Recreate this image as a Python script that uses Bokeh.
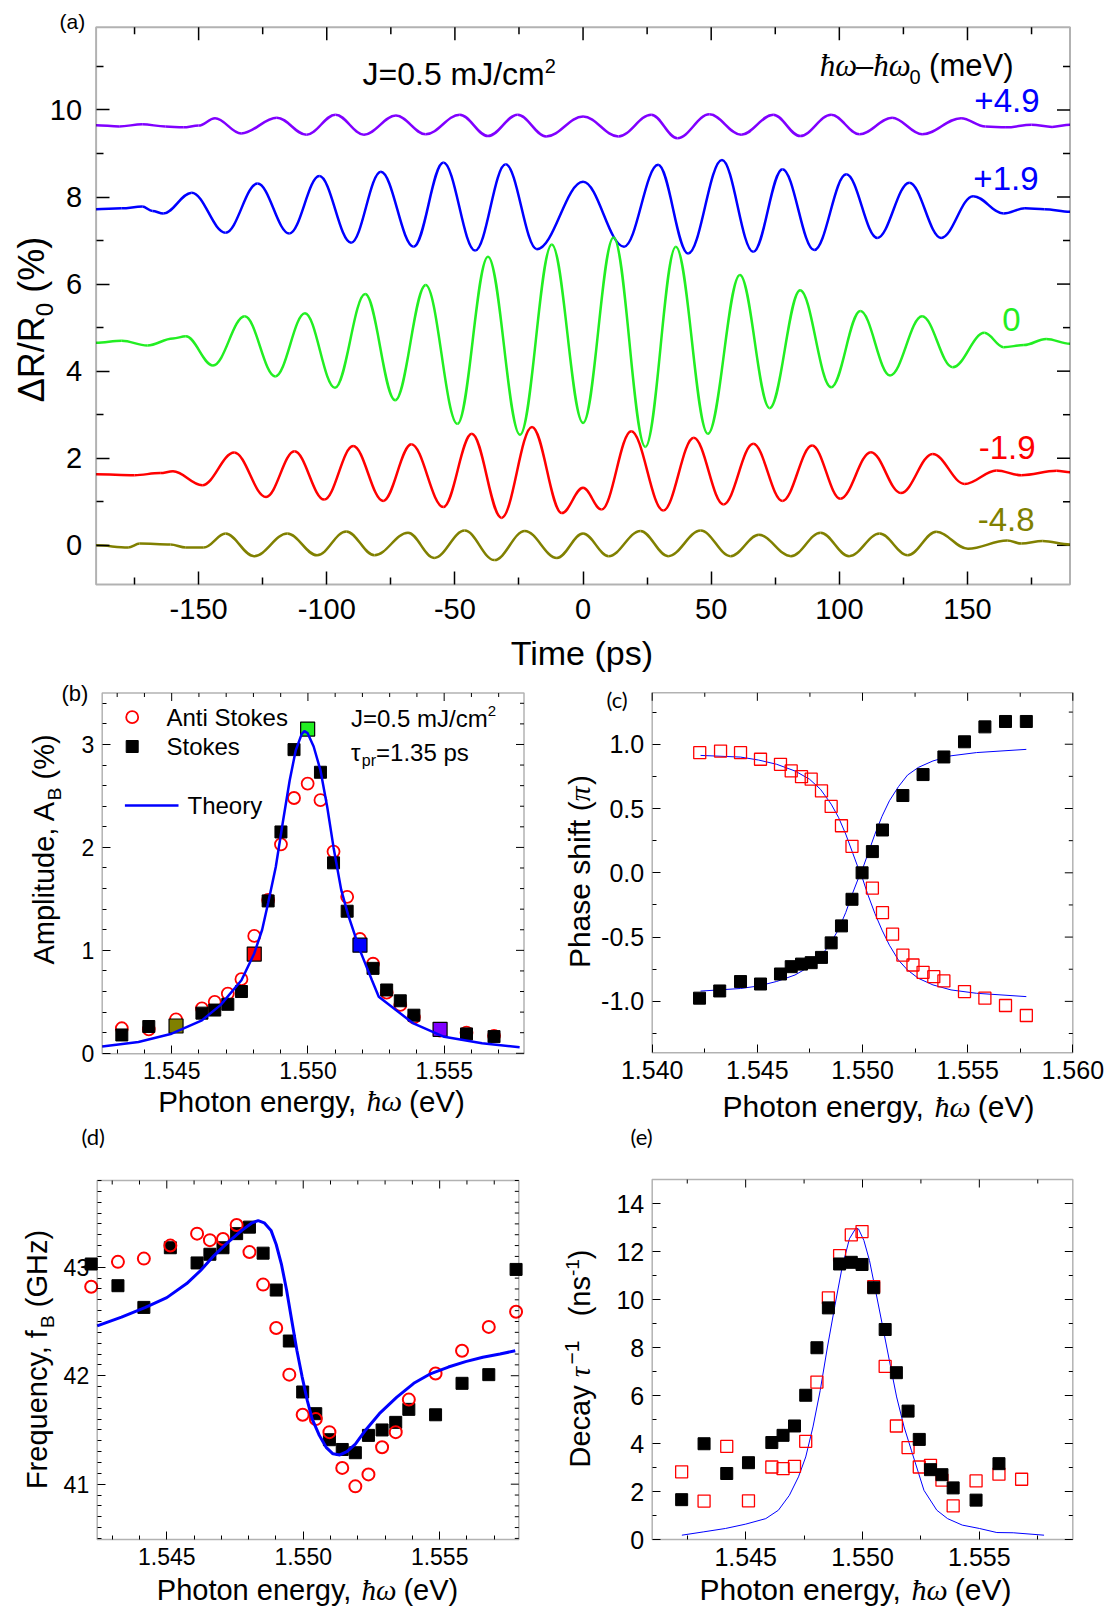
import numpy as np
from bokeh.plotting import figure
from bokeh.models import Range1d, LinearAxis, FixedTicker, PrintfTickFormatter, Label, BoxAnnotation
from bokeh.layouts import column, row
from bokeh.embed import file_html
from bokeh.resources import INLINE

# ------------------------------------------------------------------ data
# (a) time-domain traces: extrema / key points (time ps, dR/R %)
t_p49 = [-190, -181, -172, -163, -156, -150, -143.6, -133.4, -119.5, -107.9, -96.6, -85.5, -73.0, -61.4, -48.1, -37.1,
         -25.5, -14.4, 0, 13.8, 26.6, 36.8, 49.3, 61.7, 74.2, 84.7, 96.8, 107.9, 120.6, 132.3, 147.5, 157, 165, 175, 183, 190]
v_p49 = [9.65, 9.62, 9.67, 9.62, 9.60, 9.64, 9.81, 9.46, 9.82, 9.43, 9.89, 9.43, 9.87, 9.44, 9.89, 9.40,
         9.89, 9.39, 9.85, 9.39, 9.89, 9.35, 9.90, 9.43, 9.89, 9.40, 9.89, 9.44, 9.82, 9.44, 9.81, 9.62, 9.60, 9.66, 9.61, 9.66]
t_p19 = [-190, -180, -172, -168, -163.8, -152.7, -139.5, -127, -114.6, -102.9, -90.5, -78.9, -66.1, -54.5, -42.1, -30.2,
         -18, 0, 16, 29.3, 41, 54.2, 66.4, 77.8, 90.2, 102.7, 114.8, 127.3, 139.7, 152.2, 164.1, 172.4, 180, 190]
v_p19 = [7.72, 7.74, 7.78, 7.68, 7.62, 8.10, 7.18, 8.31, 7.16, 8.48, 6.95, 8.58, 6.86, 8.79, 6.77, 8.75,
         6.80, 8.35, 6.86, 8.74, 6.70, 8.85, 6.74, 8.64, 6.78, 8.52, 7.06, 8.33, 7.06, 8.02, 7.62, 7.74, 7.72, 7.66]
t_0 = [-190, -180, -170, -160, -155, -144.4, -132, -120.1, -108.5, -96.8, -85, -73.3, -61.4, -49, -37.1, -24.6,
       -12.2, 0, 11.9, 24.3, 36.2, 48.7, 61.2, 72.8, 84.7, 96.8, 108.2, 119.8, 132.3, 144.2, 156.6, 164.1, 172, 180.7, 190]
v_0 = [4.65, 4.70, 4.59, 4.75, 4.80, 4.13, 5.26, 3.88, 5.33, 3.62, 5.77, 3.33, 5.98, 2.79, 6.63, 2.54,
       6.91, 2.81, 7.07, 2.26, 6.86, 2.56, 6.21, 3.15, 5.86, 3.63, 5.38, 3.90, 5.26, 4.09, 4.88, 4.55, 4.60, 4.74, 4.63]
t_m19 = [-190, -175, -165, -160, -148.6, -136.1, -123.7, -112.6, -101, -89.7, -78, -67, -54.5, -43.4, -31.8, -19.9,
         -8.3, 0, 7.2, 18.8, 31.3, 43.2, 54.8, 66.4, 77.8, 89.4, 100.4, 112.3, 124, 136.4, 148.9, 161.3, 171, 184.8, 190]
v_m19 = [1.63, 1.61, 1.66, 1.70, 1.38, 2.13, 1.11, 2.16, 1.05, 2.28, 1.02, 2.32, 0.88, 2.56, 0.63, 2.72,
         0.74, 1.32, 0.82, 2.62, 0.80, 2.47, 0.94, 2.33, 1.02, 2.29, 1.07, 2.14, 1.20, 2.10, 1.41, 1.72, 1.61, 1.71, 1.68]
t_m48 = [-190, -177.5, -173, -161, -155, -148, -139.5, -128.4, -115.4, -103.8, -92.4, -81.4, -68.3, -58.1, -46.2, -34.6,
         -22.7, -10.2, 0, 10, 22.4, 33.2, 45.9, 57.6, 68.6, 81.1, 92.7, 103.8, 115.7, 126.7, 137.8, 150.2, 165.5, 171, 179.3, 190]
v_m48 = [0.0, -0.05, 0.04, 0.02, -0.05, -0.05, 0.27, -0.25, 0.27, -0.23, 0.32, -0.23, 0.29, -0.29, 0.34, -0.34,
         0.33, -0.29, 0.27, -0.25, 0.33, -0.25, 0.34, -0.25, 0.24, -0.25, 0.29, -0.25, 0.27, -0.23, 0.31, -0.08, 0.11, 0.04, 0.10, 0.02]
trace_labels = ["+4.9", "+1.9", "0", "-1.9", "-4.8"]

# (b) amplitude
b_E = [1.54317, 1.54416, 1.54516, 1.54611, 1.54658, 1.54706, 1.54756, 1.54803, 1.54854, 1.54901, 1.54949, 1.54999,
       1.55046, 1.55094, 1.55144, 1.55191, 1.55239, 1.55289, 1.55339, 1.55389, 1.55485, 1.55582, 1.55683]
b_anti = [0.243, 0.233, 0.33, 0.437, 0.50, 0.58, 0.72, 1.14, 1.49, 2.03, 2.48, 2.62,
          2.46, 1.96, 1.52, 1.11, 0.87, 0.59, 0.47, 0.35, 0.22, 0.20, 0.17]
b_stokes = [0.178, 0.26, 0.265, 0.39, 0.42, 0.476, 0.60, 0.964, 1.48, 2.15, 2.95, 3.15,
            2.73, 1.85, 1.38, 1.05, 0.825, 0.615, 0.51, 0.37, 0.233, 0.188, 0.162]
b_highlight = [2, 7, 11, 15, 20]
bt_E = [1.54245, 1.54378, 1.545, 1.54611, 1.5468, 1.54756, 1.54803, 1.54832, 1.54854, 1.54882, 1.54907, 1.54933,
        1.54955, 1.54977, 1.54987, 1.54999, 1.55021, 1.55046, 1.55071, 1.55094, 1.55122, 1.55147, 1.55191, 1.55235,
        1.5526, 1.55323, 1.55387, 1.555, 1.55639, 1.55777]
bt_A = [0.065, 0.11, 0.19, 0.32, 0.47, 0.71, 0.97, 1.2, 1.46, 1.81, 2.23, 2.65,
        2.94, 3.10, 3.13, 3.11, 2.98, 2.75, 2.39, 2.0, 1.59, 1.35, 1.0, 0.71,
        0.55, 0.42, 0.29, 0.16, 0.097, 0.058]

# (c) phase shift (units of pi)
c_E_s = [1.54225, 1.54321, 1.5442, 1.54515, 1.5461, 1.54661, 1.5471, 1.54756, 1.54805, 1.54851, 1.549, 1.5495,
         1.54998, 1.55047, 1.55095, 1.55192, 1.55288, 1.55387, 1.55485, 1.55582, 1.5568, 1.55779]
c_stokes = [-0.975, -0.919, -0.846, -0.865, -0.787, -0.730, -0.710, -0.699, -0.658, -0.545, -0.413, -0.206,
            0.0, 0.165, 0.333, 0.601, 0.764, 0.901, 1.019, 1.135, 1.177, 1.177]
c_E_a = [1.54226, 1.54325, 1.5442, 1.54515, 1.5461, 1.54661, 1.5471, 1.54756, 1.54805, 1.54851, 1.549, 1.5495,
         1.55047, 1.55095, 1.55143, 1.55192, 1.5524, 1.55288, 1.55339, 1.55387, 1.55485, 1.55582, 1.5568, 1.55779]
c_anti = [0.934, 0.947, 0.934, 0.883, 0.844, 0.792, 0.748, 0.728, 0.637, 0.516, 0.366, 0.206,
          -0.119, -0.310, -0.477, -0.640, -0.717, -0.774, -0.808, -0.841, -0.924, -0.975, -1.032, -1.110]
ct_E = [1.5423, 1.5442, 1.54506, 1.54592, 1.54679, 1.54748, 1.548, 1.54851, 1.54886, 1.5492, 1.54955, 1.54981,
        1.54998, 1.55024, 1.55059, 1.55093, 1.55128, 1.55171, 1.55214, 1.55266, 1.55335, 1.55421, 1.55542, 1.55779]
ct_dec = [0.913, 0.90, 0.877, 0.844, 0.792, 0.728, 0.65, 0.534, 0.431, 0.302, 0.147, 0.031,
          -0.034, -0.163, -0.317, -0.446, -0.563, -0.679, -0.756, -0.821, -0.872, -0.911, -0.937, -0.963]
ct_inc = [-0.92, -0.90, -0.88, -0.845, -0.795, -0.73, -0.655, -0.54, -0.44, -0.31, -0.15, -0.04,
          0.02, 0.14, 0.30, 0.44, 0.56, 0.67, 0.76, 0.82, 0.87, 0.91, 0.935, 0.96]

# (d) frequency (GHz)
d_E = [1.54223, 1.54321, 1.54416, 1.54513, 1.54611, 1.54658, 1.54706, 1.54756, 1.54803, 1.54853, 1.54901, 1.54949,
       1.54998, 1.55046, 1.55096, 1.55143, 1.55191, 1.55239, 1.55289, 1.55339, 1.55387, 1.55485, 1.55582, 1.5568, 1.5578]
d_stokes = [43.03, 42.83, 42.63, 43.18, 43.04, 43.12, 43.18, 43.31, 43.37, 43.13, 42.79, 42.32,
            41.85, 41.65, 41.41, 41.32, 41.29, 41.45, 41.50, 41.57, 41.69, 41.64, 41.93, 42.01, 42.98]
d_anti = [42.82, 43.05, 43.08, 43.20, 43.31, 43.25, 43.26, 43.39, 43.14, 42.84, 42.44, 42.01,
          41.64, 41.60, 41.48, 41.15, 40.98, 41.09, 41.34, 41.48, 41.78, 42.02, 42.23, 42.45, 42.59]
dt_E = [1.54245, 1.54334, 1.54422, 1.545, 1.54573, 1.54624, 1.54674, 1.54724, 1.54775, 1.54813, 1.54835, 1.54857,
        1.54882, 1.54901, 1.5492, 1.54939, 1.54958, 1.54977, 1.54996, 1.55015, 1.55033, 1.55059, 1.55084, 1.55109,
        1.55134, 1.5516, 1.55191, 1.55229, 1.55279, 1.55342, 1.55405, 1.55468, 1.55532, 1.55595, 1.55658, 1.55721, 1.55777]
dt_f = [42.46, 42.54, 42.63, 42.72, 42.85, 42.97, 43.11, 43.23, 43.34, 43.41, 43.43, 43.41,
        43.34, 43.21, 43.03, 42.79, 42.51, 42.23, 41.99, 41.77, 41.60, 41.45, 41.34, 41.28,
        41.27, 41.30, 41.37, 41.50, 41.65, 41.80, 41.93, 42.02, 42.08, 42.13, 42.17, 42.20, 42.23]

# (e) decay rate (1/ns)
e_E_s = [1.54226, 1.54322, 1.54419, 1.54512, 1.54612, 1.5466, 1.54709, 1.54757, 1.54805, 1.54854, 1.54902, 1.54952,
         1.54998, 1.55048, 1.55097, 1.55145, 1.55195, 1.55243, 1.55291, 1.5534, 1.55388, 1.55486, 1.55584]
e_stokes = [1.66, 3.99, 2.75, 3.20, 4.04, 4.34, 4.73, 6.01, 7.99, 9.65, 11.48, 11.55,
            11.46, 10.49, 8.75, 6.95, 5.35, 4.17, 2.91, 2.70, 2.15, 1.64, 3.16]
e_E_a = [1.54226, 1.54322, 1.54419, 1.54512, 1.54612, 1.5466, 1.54709, 1.54757, 1.54805, 1.54854, 1.54902, 1.54952,
         1.54998, 1.55048, 1.55097, 1.55145, 1.55195, 1.55243, 1.55291, 1.5534, 1.55388, 1.55486, 1.55584, 1.55681]
e_anti = [2.82, 1.60, 3.88, 1.61, 3.02, 2.95, 3.05, 4.09, 6.56, 10.07, 11.83, 12.69,
          12.83, 10.54, 7.21, 4.73, 3.83, 3.02, 3.09, 2.47, 1.40, 2.44, 2.72, 2.51]
et_E = [1.54227, 1.54321, 1.54414, 1.545, 1.54586, 1.5464, 1.54687, 1.54726, 1.54757, 1.54788, 1.54819, 1.5485,
        1.54882, 1.54913, 1.54944, 1.54972, 1.54983, 1.55006, 1.5503, 1.55053, 1.55084, 1.55115, 1.55146, 1.55178,
        1.55209, 1.55263, 1.55318, 1.55364, 1.55427, 1.555, 1.55575, 1.55645, 1.55777]
et_G = [0.18, 0.32, 0.46, 0.64, 0.87, 1.22, 1.84, 2.61, 3.44, 4.69, 6.21, 8.02,
        9.75, 11.35, 12.53, 12.98, 12.94, 12.46, 11.62, 10.51, 8.99, 7.46, 5.94, 4.69,
        3.72, 2.05, 1.22, 0.87, 0.60, 0.46, 0.29, 0.28, 0.18]

# ------------------------------------------------------------------ style
SANS = "Liberation Sans"
SERIF = "Liberation Serif"
LBL = "Lato"
C_PURPLE, C_BLUE, C_GREEN, C_RED, C_OLIVE = "#8000FF", "#0000FF", "#22EE22", "#FF0000", "#808000"
TRACE_COLORS = [C_PURPLE, C_BLUE, C_GREEN, C_RED, C_OLIVE]
LABEL_COLORS = [C_BLUE, C_BLUE, C_GREEN, C_RED, C_OLIVE]
HL_COLORS = [C_OLIVE, C_RED, C_GREEN, C_BLUE, C_PURPLE]

W_SANS = {' ': 278, '(': 333, ')': 333, '+': 584, ',': 278, '-': 333, '.': 278, '/': 278, '=': 584, '%': 889,
          'A': 667, 'B': 667, 'D': 722, 'F': 611, 'G': 778, 'H': 722, 'J': 500, 'P': 667, 'R': 722, 'S': 667,
          'T': 611, 'V': 667, 'a': 556, 'c': 500, 'd': 556, 'e': 556, 'f': 278, 'g': 556, 'h': 556, 'i': 222,
          'k': 500, 'l': 222, 'm': 833, 'n': 556, 'o': 556, 'p': 556, 'q': 556, 'r': 333, 's': 500, 't': 278,
          'u': 556, 'y': 500, 'z': 500, 'Δ': 668, 'π': 600, 'τ': 450, 'ω': 700, 'ħ': 556, '–': 556, '−': 584}
W_SERIF = {'ħ': 500, 'ω': 667, 'τ': 440, 'π': 550}


def text_width(s, size, font):
    tot = 0
    for ch in s:
        if font == SERIF and ch in W_SERIF:
            tot += W_SERIF[ch]
        elif ch.isdigit():
            tot += 556
        else:
            tot += W_SANS.get(ch, 556)
    return tot / 1000.0 * size


def to_data(g, px, py):
    return g['X0'] + (px - g['ox']) * g['sx'], g['Y1'] - (py - g['oy']) * g['sy']


def add_text(p, g, px, py, parts, angle=0.0, align='left'):
    # px, py: start (or centre / end) of the text on its baseline, in page pixels
    # parts: (text, size, shift, font, style, color); shift > 0 lowers (subscript)
    widths = [text_width(pt[0], pt[1], pt[3]) for pt in parts]
    total = sum(widths)
    along = {'left': 0.0, 'center': -total / 2.0, 'right': -total}[align]
    for (t, size, shift, font, style, color), w in zip(parts, widths):
        lead = len(t) - len(t.lstrip(' '))
        s = t.strip(' ')
        a = along + lead * 0.278 * size
        perp = shift - 0.35 * size
        if angle == 0:
            X, Y = px + a, py + perp
        else:
            X, Y = px + perp, py - a
        dx, dy = to_data(g, X, Y)
        if s:
            p.add_layout(Label(x=dx, y=dy, text=s, text_font=font, text_font_size=f"{size}px",
                               text_font_style=style, text_color=color, text_align='left',
                               text_baseline='middle', angle=angle))
        along += w


def make_panel(g, xt, xminor, yt, yminor, xfmt, yfmt, tick_size, standoff, major_len, minor_len, lw):
    bx0, by0, bx1, by1 = g['box']
    bx0 -= g['ox']; bx1 -= g['ox']; by0 -= g['oy']; by1 -= g['oy']
    xa, xb = g['xr']
    ya, yb = g['yr']
    sx = (xb - xa) / (bx1 - bx0)
    sy = (yb - ya) / (by1 - by0)
    g['sx'], g['sy'] = sx, sy
    g['X0'] = xa - bx0 * sx
    g['Y1'] = yb + by0 * sy
    X1 = g['X0'] + g['w'] * sx
    Y0 = g['Y1'] - g['h'] * sy
    p = figure(width=g['w'], height=g['h'], x_range=Range1d(g['X0'], X1), y_range=Range1d(Y0, g['Y1']),
               output_backend="svg", toolbar_location=None, min_border=0,
               x_axis_location=None, y_axis_location=None)
    p.title.text = ""
    p.title.visible = False
    p.xgrid.visible = False
    p.ygrid.visible = False
    p.outline_line_color = None
    p.background_fill_color = "white"
    p.border_fill_color = "white"

    def style(ax, ticks, minor, fmt):
        ax.ticker = FixedTicker(ticks=ticks, minor_ticks=minor)
        ax.formatter = PrintfTickFormatter(format=fmt)
        ax.axis_line_color = None
        ax.major_tick_line_color = "black"
        ax.minor_tick_line_color = "black"
        ax.major_tick_line_width = max(1, lw - 0.5)
        ax.minor_tick_line_width = max(1, lw - 0.5)
        ax.major_tick_in = major_len
        ax.major_tick_out = 0
        ax.minor_tick_in = minor_len
        ax.minor_tick_out = 0
        ax.major_label_text_font = SANS
        ax.major_label_text_font_size = f"{tick_size}px"
        ax.major_label_text_color = "black"
        ax.major_label_standoff = standoff

    xaxis = LinearAxis(fixed_location=ya, bounds=(xa, xb))
    yaxis = LinearAxis(fixed_location=xa, bounds=(ya, yb))
    style(xaxis, xt, xminor, xfmt)
    style(yaxis, yt, yminor, yfmt)
    p.add_layout(xaxis, "below")
    p.add_layout(yaxis, "left")

    # mirrored ticks on top and right edges
    tw = max(1, lw - 0.5)
    for ticks, L in ((xt, major_len), (xminor, minor_len)):
        tk = [v for v in ticks if xa <= v <= xb]
        p.segment(x0=tk, y0=[yb] * len(tk), x1=tk, y1=[yb - L * sy] * len(tk), line_color="black", line_width=tw)
    for ticks, L in ((yt, major_len), (yminor, minor_len)):
        tk = [v for v in ticks if ya <= v <= yb]
        p.segment(x0=[xb] * len(tk), y0=tk, x1=[xb - L * sx] * len(tk), y1=tk, line_color="black", line_width=tw)
    p.add_layout(BoxAnnotation(left=xa, right=xb, bottom=ya, top=yb, fill_color=None,
                               line_color="black", line_width=lw))
    return p


# ------------------------------------------------------------------ geometry (page pixels)
g_a = dict(ox=0, oy=0, w=1110, h=675, box=(95.6, 26.7, 1069.5, 584.0), xr=(-190, 190), yr=(-0.9, 11.9))
g_b = dict(ox=0, oy=675, w=560, h=448, box=(101.7, 692.5, 523.5, 1053.3), xr=(1.54245, 1.55793), yr=(-0.005, 3.5))
g_c = dict(ox=560, oy=675, w=550, h=448, box=(651.7, 692.3, 1072.3, 1052.3), xr=(1.540, 1.560), yr=(-1.4, 1.4))
g_d = dict(ox=0, oy=1123, w=560, h=487, box=(96.7, 1180.0, 518.3, 1539.0), xr=(1.54245, 1.5579), yr=(40.49, 43.80))
g_e = dict(ox=560, oy=1123, w=550, h=487, box=(651.7, 1179.0, 1072.3, 1539.0), xr=(1.541, 1.559), yr=(0, 15))

ev_major = [1.545, 1.550, 1.555]
ev_minor1 = [round(1.543 + 0.001 * i, 4) for i in range(15) if round(1.543 + 0.001 * i, 4) not in ev_major]

# ------------------------------------------------------------------ (a)
pa = make_panel(g_a, [-150, -100, -50, 0, 50, 100, 150], [-175, -125, -75, -25, 25, 75, 125, 175],
                [0, 2, 4, 6, 8, 10], [1, 3, 5, 7, 9, 11], "%d", "%d", 29, 14, 13, 7, 2)
for (tt, vv), col in zip([(t_p49, v_p49), (t_p19, v_p19), (t_0, v_0), (t_m19, v_m19), (t_m48, v_m48)], TRACE_COLORS):
    x0 = np.array(tt[:-1], float)
    x1 = np.array(tt[1:], float)
    y0 = np.array(vv[:-1], float)
    y1 = np.array(vv[1:], float)
    d = x1 - x0
    pa.bezier(x0=x0, y0=y0, x1=x1, y1=y1, cx0=x0 + 0.364 * d, cy0=y0, cx1=x1 - 0.364 * d, cy1=y1,
              line_color=col, line_width=2.5)

label_pos = [(1039, 112), (1038, 190), (1020, 331), (1035, 459), (1034, 531)]
for txt, col, (lx, ly) in zip(trace_labels, LABEL_COLORS, label_pos):
    add_text(pa, g_a, lx, ly, [(txt, 33, 0, SANS, "normal", col)], align='right')
add_text(pa, g_a, 59, 28, [("(a)", 21, 0, SANS, "normal", "black")])
add_text(pa, g_a, 362, 85, [("J=0.5 mJ/cm", 32, 0, SANS, "normal", "black"),
                            ("2", 20, -13, SANS, "normal", "black")])
add_text(pa, g_a, 1013, 76, [("ħω", 31, 0, SERIF, "italic", "black"), ("–", 31, 0, SANS, "normal", "black"),
                             ("ħω", 31, 0, SERIF, "italic", "black"), ("0", 20, 7, SANS, "normal", "black"),
                             (" (meV)", 31, 0, SANS, "normal", "black")], align='right')
add_text(pa, g_a, 582, 664, [("Time (ps)", 34, 0, SANS, "normal", "black")], align='center')
add_text(pa, g_a, 44, 319, [("ΔR/R", 36, 0, SANS, "normal", "black"), ("0", 24, 8, SANS, "normal", "black"),
                            (" (%)", 36, 0, SANS, "normal", "black")], angle=np.pi / 2, align='center')

# ------------------------------------------------------------------ (b)
pb = make_panel(g_b, ev_major, ev_minor1, [0, 1, 2, 3],
                [0.2, 0.4, 0.6, 0.8, 1.2, 1.4, 1.6, 1.8, 2.2, 2.4, 2.6, 2.8, 3.2, 3.4],
                "%.3f", "%d", 23, 8, 8, 4, 1.5)
pb.scatter(b_E, b_anti, marker="circle", size=12, fill_color=None, line_color=C_RED, line_width=1.8)
plain = [i for i in range(len(b_E)) if i not in b_highlight]
pb.scatter([b_E[i] for i in plain], [b_stokes[i] for i in plain], marker="square", size=12,
           fill_color="black", line_color="black")
pb.scatter([b_E[i] for i in b_highlight], [b_stokes[i] for i in b_highlight], marker="square", size=14,
           fill_color=HL_COLORS, line_color="black", line_width=1.2)
pb.line(bt_E, bt_A, line_color=C_BLUE, line_width=2.5)
# legend
lx, ly = to_data(g_b, 131.7, 716.7)
pb.scatter([lx], [ly], marker="circle", size=12, fill_color=None, line_color=C_RED, line_width=1.8)
lx, ly = to_data(g_b, 131.7, 746)
pb.scatter([lx], [ly], marker="square", size=12, fill_color="black", line_color="black")
la, lyy = to_data(g_b, 124.4, 805)
lb, _ = to_data(g_b, 178, 805)
pb.line([la, lb], [lyy, lyy], line_color=C_BLUE, line_width=2.5)
add_text(pb, g_b, 166, 725, [("Anti Stokes", 24, 0, SANS, "normal", "black")])
add_text(pb, g_b, 166, 754, [("Stokes", 24, 0, SANS, "normal", "black")])
add_text(pb, g_b, 187, 813, [("Theory", 24, 0, SANS, "normal", "black")])
add_text(pb, g_b, 350.5, 726, [("J=0.5 mJ/cm", 24, 0, SANS, "normal", "black"),
                               ("2", 15, -10, SANS, "normal", "black")])
add_text(pb, g_b, 350.5, 760, [("τ", 24, 0, SANS, "normal", "black"), ("pr", 16, 6, SANS, "normal", "black"),
                               ("=1.35 ps", 24, 0, SANS, "normal", "black")])
add_text(pb, g_b, 61, 701, [("(b)", 22, 0, SANS, "normal", "black")])
add_text(pb, g_b, 311, 1111, [("Photon energy, ", 29.5, 0, SANS, "normal", "black"),
                              ("ħω", 29.5, 0, SERIF, "italic", "black"),
                              (" (eV)", 29.5, 0, SANS, "normal", "black")], align='center')
add_text(pb, g_b, 54, 849, [("Amplitude, A", 29, 0, SANS, "normal", "black"), ("B", 19, 7, SANS, "normal", "black"),
                            (" (%)", 29, 0, SANS, "normal", "black")], angle=np.pi / 2, align='center')

# ------------------------------------------------------------------ (c)
pc = make_panel(g_c, [1.540, 1.545, 1.550, 1.555, 1.560], [1.5425, 1.5475, 1.5525, 1.5575],
                [-1.0, -0.5, 0.0, 0.5, 1.0], [-1.25, -0.75, -0.25, 0.25, 0.75, 1.25],
                "%.3f", "%.1f", 25, 8, 8, 4, 1.5)
pc.line(ct_E, ct_dec, line_color=C_BLUE, line_width=1)
pc.line(ct_E, ct_inc, line_color=C_BLUE, line_width=1)
pc.scatter(c_E_a, c_anti, marker="square", size=12, fill_color=None, line_color=C_RED, line_width=1.3)
pc.scatter(c_E_s, c_stokes, marker="square", size=12, fill_color="black", line_color="black")
add_text(pc, g_c, 606, 707, [("(c)", 22, 0, LBL, "normal", "black")])
add_text(pc, g_c, 878, 1116, [("Photon energy, ", 30, 0, SANS, "normal", "black"),
                              ("ħω", 30, 0, SERIF, "italic", "black"),
                              (" (eV)", 30, 0, SANS, "normal", "black")], align='center')
add_text(pc, g_c, 589, 871, [("Phase shift (", 30, 0, SANS, "normal", "black"),
                             ("π", 30, 0, SERIF, "italic", "black"),
                             (")", 30, 0, SANS, "normal", "black")], angle=np.pi / 2, align='center')

# ------------------------------------------------------------------ (d)
d_minor = [round(40.5 + 0.1 * i, 2) for i in range(34) if abs((40.5 + 0.1 * i) - round(40.5 + 0.1 * i)) > 1e-6]
pd_ = make_panel(g_d, ev_major, ev_minor1, [41, 42, 43], d_minor, "%.3f", "%d", 23, 8, 8, 4, 1.5)
pd_.scatter(d_E, d_stokes, marker="square", size=12, fill_color="black", line_color="black")
pd_.scatter(d_E, d_anti, marker="circle", size=12, fill_color=None, line_color=C_RED, line_width=2)
pd_.line(dt_E, dt_f, line_color=C_BLUE, line_width=3)
add_text(pd_, g_d, 81, 1144, [("(d)", 22, 0, LBL, "normal", "black")])
add_text(pd_, g_d, 307, 1600, [("Photon energy, ", 29, 0, SANS, "normal", "black"),
                               ("ħω", 29, 0, SERIF, "italic", "black"),
                               (" (eV)", 29, 0, SANS, "normal", "black")], align='center')
add_text(pd_, g_d, 47, 1359, [("Frequency, f", 29, 0, SANS, "normal", "black"), ("B", 19, 7, SANS, "normal", "black"),
                              (" (GHz)", 29, 0, SANS, "normal", "black")], angle=np.pi / 2, align='center')

# ------------------------------------------------------------------ (e)
pe = make_panel(g_e, ev_major, [1.5425, 1.5475, 1.5525, 1.5575], [0, 2, 4, 6, 8, 10, 12, 14],
                [1, 3, 5, 7, 9, 11, 13], "%.3f", "%d", 25, 8, 8, 4, 1.5)
pe.line(et_E, et_G, line_color=C_BLUE, line_width=1)
pe.scatter(e_E_a, e_anti, marker="square", size=12, fill_color=None, line_color=C_RED, line_width=1.3)
pe.scatter(e_E_s, e_stokes, marker="square", size=12, fill_color="black", line_color="black")
add_text(pe, g_e, 630, 1144, [("(e)", 22, 0, LBL, "normal", "black")])
add_text(pe, g_e, 855, 1599, [("Photon energy, ", 30, 0, SANS, "normal", "black"),
                              ("ħω", 30, 0, SERIF, "italic", "black"),
                              (" (eV)", 30, 0, SANS, "normal", "black")], align='center')
add_text(pe, g_e, 590, 1358, [("Decay ", 29, 0, SANS, "normal", "black"), ("τ", 29, 0, SERIF, "italic", "black"),
                              ("−1", 21, -11, SANS, "normal", "black"), ("   (ns", 29, 0, SANS, "normal", "black"),
                              ("-1", 19, -11, SANS, "normal", "black"), (")", 29, 0, SANS, "normal", "black")],
         angle=np.pi / 2, align='center')

layout = column(pa, row(pb, pc), row(pd_, pe))
open("out.html", "w").write(file_html(layout, INLINE))
